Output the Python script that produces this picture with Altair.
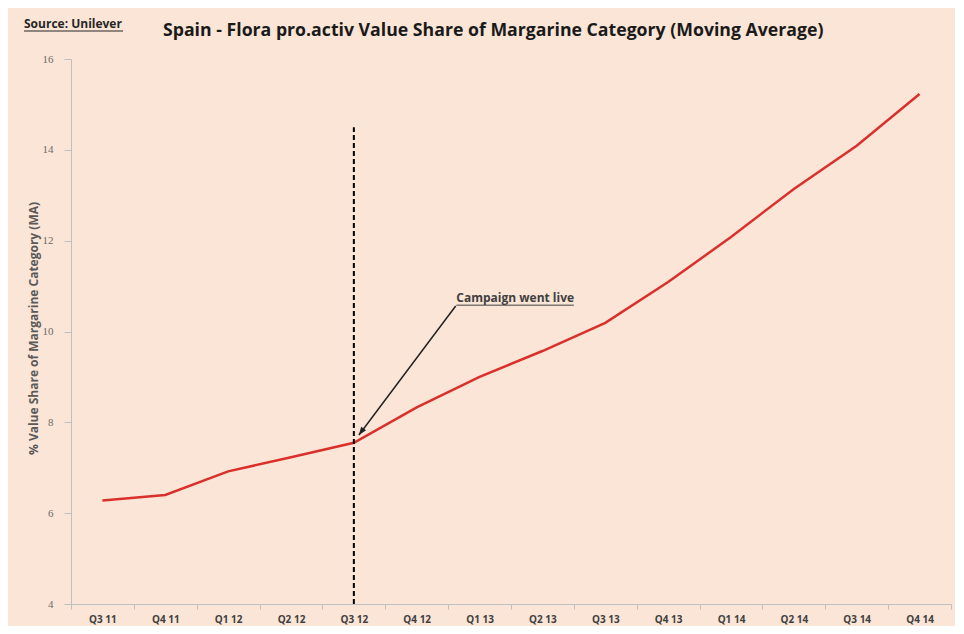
import altair as alt
import pandas as pd

# ---- data ----
quarters = ["Q3 11", "Q4 11", "Q1 12", "Q2 12", "Q3 12", "Q4 12", "Q1 13",
            "Q2 13", "Q3 13", "Q4 13", "Q1 14", "Q2 14", "Q3 14", "Q4 14"]
share = [6.28, 6.40, 6.92, 7.23, 7.55, 8.33, 9.00,
         9.57, 10.19, 11.09, 12.08, 13.14, 14.09, 15.23]
y_ticks = [4, 6, 8, 10, 12, 14, 16]

campaign_quarter = "Q3 12"
campaign_top = 14.5
campaign_bottom = 4

note_text = ["Campaign went live"]
note_x = [5.63]
note_y = [10.74]
underline_x = [5.63]
underline_x2 = [7.50]
underline_y = [10.58]
arrow_x = [5.62]
arrow_y = [10.56]
arrow_x2 = [4.08]
arrow_y2 = [7.72]

title_text = ["Spain - Flora pro.activ Value Share of Margarine Category (Moving Average)"]
source_text = ["Source: Unilever"]
y_title = "% Value Share of Margarine Category (MA)"

BG = "#FBE5D6"
W, H = 880, 545
FONT = "Open Sans"
n = len(quarters)
xdom = [-0.5, n - 0.5]
ci = quarters.index(campaign_quarter)

df = pd.DataFrame({"quarter": quarters, "share": share})

yenc = alt.Y("share:Q",
             scale=alt.Scale(domain=[4, 16], nice=False, zero=False),
             axis=alt.Axis(values=y_ticks, title=y_title, titleFont=FONT,
                           titleFontSize=12, titleFontWeight="bold",
                           titleColor="#595959", titleX=-38, titleY=269,
                           titleAngle=270, titleAlign="center",
                           titleBaseline="middle",
                           labelFont="Liberation Serif", labelFontSize=11,
                           labelColor="#6b6b6b", labelPadding=11,
                           tickSize=7, tickColor="#BFBFBF",
                           domainColor="#BFBFBF", grid=False))

xenc = alt.X("quarter:O", sort=quarters,
             scale=alt.Scale(domain=quarters, paddingInner=0, paddingOuter=0),
             axis=alt.Axis(title=None, labelAngle=0, tickBand="extent",
                           labelFont=FONT, labelFontSize=10,
                           labelFontWeight="bold", labelColor="#404040",
                           labelPadding=5, tickSize=5, tickColor="#BFBFBF",
                           domainColor="#BFBFBF", grid=False))

line = alt.Chart(df).mark_line(color="#D9302C", strokeWidth=2.5).encode(
    x=xenc, y=yenc)

qx = dict(scale=alt.Scale(domain=xdom, nice=False, zero=False), axis=None)

vline = alt.Chart(pd.DataFrame({"ix": [ci], "lo": [campaign_bottom],
                                "hi": [campaign_top]})).mark_rule(
    color="black", strokeWidth=2, strokeDash=[5, 3]).encode(
    x=alt.X("ix:Q", **qx), y=alt.Y("lo:Q"), y2="hi:Q")

arrow_df = pd.DataFrame({"x": arrow_x, "y": arrow_y,
                         "x2": arrow_x2, "y2": arrow_y2})
arrow = alt.Chart(arrow_df).mark_rule(color="#222222", strokeWidth=1.5).encode(
    x=alt.X("x:Q", **qx), x2="x2:Q", y="y:Q", y2="y2:Q")

head = alt.Chart(arrow_df).mark_point(
    shape="M0,0 L-0.38,1 L0.38,1 Z", filled=True, color="#222222",
    size=260, angle=216, opacity=1).encode(
    x=alt.X("x2:Q", **qx), y="y2:Q")

note = alt.Chart(pd.DataFrame({"x": note_x, "y": note_y, "t": note_text})).mark_text(
    align="left", baseline="middle", font=FONT, fontSize=12,
    fontWeight="bold", color="#404040").encode(
    x=alt.X("x:Q", **qx), y="y:Q", text="t:N")

uline = alt.Chart(pd.DataFrame({"x": underline_x, "x2": underline_x2,
                                "y": underline_y})).mark_rule(
    color="#404040", strokeWidth=1).encode(
    x=alt.X("x:Q", **qx), x2="x2:Q", y="y:Q")

title = alt.Chart(pd.DataFrame({"t": title_text})).mark_text(
    align="left", baseline="middle", font=FONT, fontSize=17.7,
    fontWeight="bold", color="#1a1a1a").encode(
    x=alt.value(92), y=alt.value(-28), text="t:N")

source = alt.Chart(pd.DataFrame({"t": source_text})).mark_text(
    align="left", baseline="middle", font=FONT, fontSize=12,
    fontWeight="bold", color="#262626").encode(
    x=alt.value(-47), y=alt.value(-35), text="t:N")

source_ul = alt.Chart(pd.DataFrame({"t": source_text})).mark_rule(
    color="#262626", strokeWidth=1).encode(
    x=alt.value(-47), x2=alt.value(52), y=alt.value(-28))

chart = alt.layer(line, vline, arrow, head, note, uline, title, source, source_ul).resolve_scale(
    x="independent").properties(
    width=W, height=H,
    background=BG,
    padding={"left": 63, "top": 51, "right": 4, "bottom": 22},
    autosize=alt.AutoSizeParams(type="none"),
).configure_view(strokeWidth=0, fill=BG)

chart.save("out.html", embed_options={"renderer": "svg", "actions": False})
